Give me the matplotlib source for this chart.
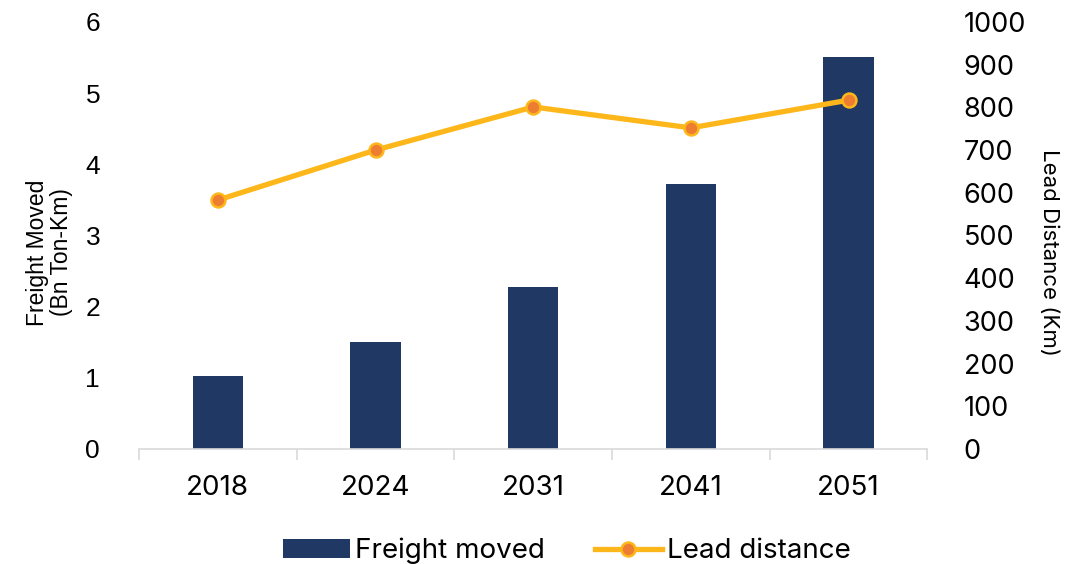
import matplotlib.pyplot as plt
import numpy as np

# data
years = ['2018', '2024', '2031', '2041', '2051']
freight = [1.03, 1.50, 2.28, 3.72, 5.51]      # Bn Ton-Km
lead_km = [583, 700, 801, 752, 817]           # Km

bar_col = '#203864'
line_col = '#FDB71A'
mark_col = '#ED7D31'
tick_font = 'Inter'

fig = plt.figure(figsize=(10.86, 5.64), dpi=100)
ax = fig.add_axes([0.128, 0.204, 0.726, 0.757])
x = np.arange(len(years))

bars = ax.bar(x, freight, width=0.32, color=bar_col, label='Freight moved', zorder=2)
ax.set_ylim(0, 6)
ax.set_xlim(-0.5, len(years) - 0.5)
ax.set_yticks(range(0, 7))
ax.tick_params(axis='y', length=0, labelsize=19, pad=28)
for t in ax.get_yticklabels():
    t.set_family('Liberation Sans')
ax.set_xticks(x)
ax.set_xticklabels(years, family=tick_font, fontsize=20)
ax.tick_params(axis='x', length=0, pad=19)
ax.set_xticks(np.arange(-0.5, len(years)), minor=True)
ax.tick_params(axis='x', which='minor', length=8, color='#d9d9d9', width=1.2)
for s in ['top', 'left', 'right']:
    ax.spines[s].set_visible(False)
ax.spines['bottom'].set_color('#d9d9d9')
ax.spines['bottom'].set_linewidth(1.2)
ax.set_ylabel('Freight Moved\n(Bn Ton-Km)', family='Liberation Sans', fontsize=16.5,
              linespacing=1.05)
ax.yaxis.set_label_coords(-0.084, 0.46)

ax2 = ax.twinx()
line, = ax2.plot(x, lead_km, color=line_col, lw=3.8, marker='o', ms=10,
                 mfc=mark_col, mec=line_col, mew=1.8, label='Lead distance', zorder=3)
ax2.set_ylim(0, 1000)
ax2.set_yticks(range(0, 1001, 100))
ax2.tick_params(axis='y', length=0, labelsize=19.5, pad=26)
for t in ax2.get_yticklabels():
    t.set_family(tick_font)
for s in ['top', 'left', 'right', 'bottom']:
    ax2.spines[s].set_visible(False)
ax2.set_ylabel('Lead Distance (Km)', family=tick_font, fontsize=16, rotation=270,
               va='center')
ax2.yaxis.set_label_coords(1.154, 0.46)

fig.legend([bars, line], ['Freight moved', 'Lead distance'], loc='lower center',
           bbox_to_anchor=(0.522, -0.045), ncol=2, frameon=False,
           prop={'family': tick_font, 'size': 20}, handlelength=2.4,
           handletextpad=0.2, columnspacing=1.8)

fig.savefig('out.png', dpi=100)
